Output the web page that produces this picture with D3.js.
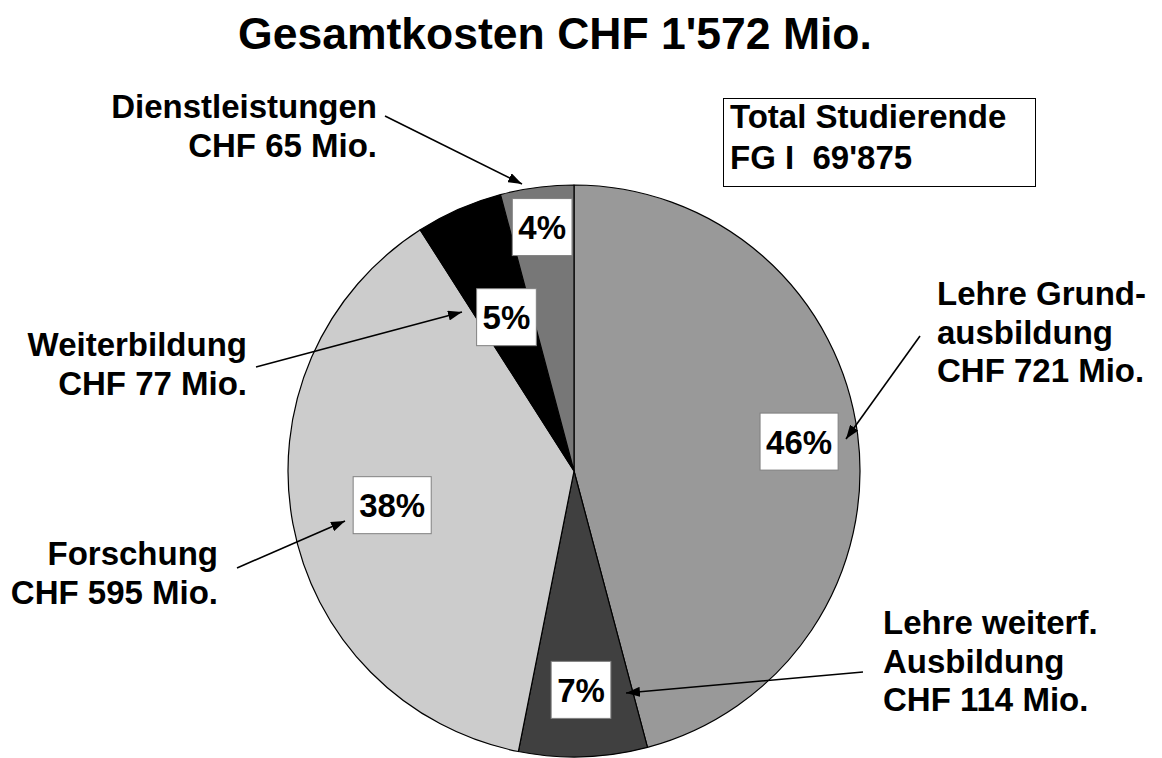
<!DOCTYPE html>
<html><head><meta charset="utf-8">
<script src="https://cdn.jsdelivr.net/npm/d3@7"></script>
<style>
html,body{margin:0;padding:0;background:#fff;}
text{font-family:"Liberation Sans",Arial,sans-serif;font-weight:bold;fill:#000;white-space:pre;}
</style></head>
<body>
<svg id="chart" width="1162" height="758"></svg>
<script>
// ---- data ----
const categories = ["Lehre Grundausbildung", "Lehre weiterf. Ausbildung", "Forschung", "Weiterbildung", "Dienstleistungen"];
const values = [721, 114, 595, 77, 65];
const percentLabels = ["46%", "7%", "38%", "5%", "4%"];
const labelLines = [
  ["Lehre Grund-", "ausbildung", "CHF 721 Mio."],
  ["Lehre weiterf.", "Ausbildung", "CHF 114 Mio."],
  ["Forschung", "CHF 595 Mio."],
  ["Weiterbildung", "CHF 77 Mio."],
  ["Dienstleistungen", "CHF 65 Mio."]
];
const sliceColors = ["#999999", "#404040", "#cccccc", "#000000", "#777777"];
const titleText = "Gesamtkosten CHF 1'572 Mio.";
const infoLines = ["Total Studierende", "FG I  69'875"];

// ---- layout ----
const W = 1162, H = 758;
const cx = 574, cy = 471, R = 286;
const pctRadius = [227, 219, 185, 168, 246];
const labelPos = [   // anchor x, first baseline, text-anchor
  {x: 937, y: 305, a: "start"},
  {x: 883, y: 634, a: "start"},
  {x: 218, y: 565, a: "end"},
  {x: 247, y: 356, a: "end"},
  {x: 377, y: 118, a: "end"}
];
const arrows = [
  [920, 336, 846, 439],
  [863, 672, 626, 693],
  [237, 568, 345, 521],
  [256, 367, 462, 312],
  [385, 116, 522, 184]
];
const lineGap = 38.5;

const svg = d3.select("#chart");

// title
svg.append("text").attr("x", 555).attr("y", 49)
  .attr("text-anchor", "middle").style("font-size", "44.5px").text(titleText);

// pie
const pie = d3.pie().sort(null).value(d => d)(values);
const arc = d3.arc().innerRadius(0).outerRadius(R);
const g = svg.append("g").attr("transform", `translate(${cx},${cy})`);
g.selectAll("path.slice").data(pie).join("path")
  .attr("class", "slice")
  .attr("d", arc)
  .attr("fill", (d, i) => sliceColors[i])
  .attr("stroke", "#000").attr("stroke-width", 1.2).attr("stroke-linejoin", "round");

// percentage boxes
pie.forEach((d, i) => {
  const a = (d.startAngle + d.endAngle) / 2;
  const x = cx + pctRadius[i] * Math.sin(a);
  const y = cy - pctRadius[i] * Math.cos(a);
  const grp = svg.append("g");
  const t = grp.append("text").attr("x", x).attr("y", y + 12)
    .attr("text-anchor", "middle").style("font-size", "33px").text(percentLabels[i]);
  const bb = t.node().getBBox();
  grp.insert("rect", "text")
    .attr("x", bb.x - 6).attr("y", y - 28.5)
    .attr("width", bb.width + 12).attr("height", 57)
    .attr("fill", "#fff").attr("stroke", "#808080").attr("stroke-width", 1);
});

// arrows
const defs = svg.append("defs");
defs.append("marker").attr("id", "ah")
  .attr("viewBox", "0 0 14 10").attr("refX", 14).attr("refY", 5)
  .attr("markerWidth", 14).attr("markerHeight", 10)
  .attr("markerUnits", "userSpaceOnUse").attr("orient", "auto")
  .append("path").attr("d", "M0,0 L14,5 L0,10 Z").attr("fill", "#000");
arrows.forEach(a => {
  svg.append("line").attr("x1", a[0]).attr("y1", a[1]).attr("x2", a[2]).attr("y2", a[3])
    .attr("stroke", "#000").attr("stroke-width", 1.6).attr("marker-end", "url(#ah)");
});

// category labels
labelLines.forEach((lines, i) => {
  const p = labelPos[i];
  const t = svg.append("text").attr("text-anchor", p.a).style("font-size", "33px");
  lines.forEach((ln, j) => {
    t.append("tspan").attr("x", p.x).attr("y", p.y + j * lineGap).text(ln);
  });
});

// info box
svg.append("rect").attr("x", 723.5).attr("y", 98.5).attr("width", 312).attr("height", 88)
  .attr("fill", "#fff").attr("stroke", "#000").attr("stroke-width", 1);
infoLines.forEach((ln, j) => {
  svg.append("text").attr("x", 730).attr("y", 128 + j * 40.5)
    .style("font-size", "33px").text(ln);
});
</script>
</body></html>
